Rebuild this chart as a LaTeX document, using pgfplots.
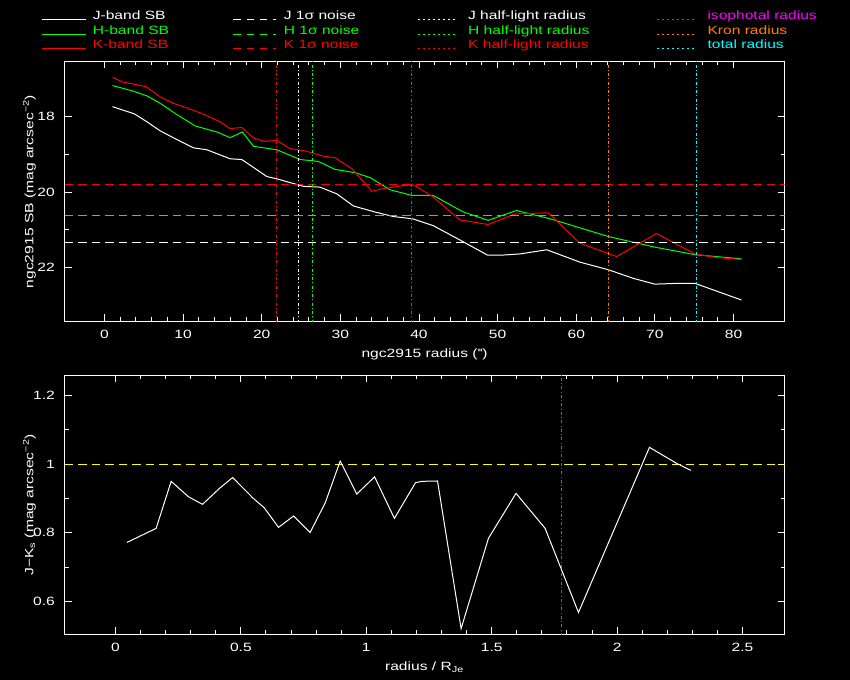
\documentclass[border=0pt]{standalone}
\usepackage{fontspec}
\setmainfont{Liberation Sans}[FakeStretch=1.3]
\usepackage{pgfplots}
\pgfplotsset{compat=1.18}
\definecolor{pgreen}{rgb}{0,1,0}
\definecolor{pred}{rgb}{1,0,0}
\definecolor{porange}{rgb}{1,0.5,0}
\definecolor{pcyan}{rgb}{0,1,1}
\definecolor{pmagenta}{RGB}{255,0,255}
\definecolor{pyellow}{rgb}{1,1,0}
\pgfplotsset{
  myax/.style={
    scale only axis,
    axis line style={white, line width=1bp},
    tick style={white, line width=1bp},
    tick align=inside, tick pos=both,
    xticklabel pos=lower, yticklabel pos=left,
    major tick length=7bp, minor tick length=4bp,
    ticklabel style={white},
    xticklabel style={anchor=base, inner sep=0pt, yshift=-17bp},
    yticklabel style={anchor=east, inner sep=0pt, xshift=-9.5bp},
    label style={white},
    /pgf/number format/assume math mode=true,
    clip=true,
  },
  curve/.style={line width=1bp},
  vline/.style={line width=1bp, dash pattern=on 3bp off 2bp on 1bp off 2.5bp},
  mline/.style={line width=1.4bp, dash pattern=on 3bp off 2bp on 1.2bp off 2.3bp},
  hline/.style={line width=1bp, dash pattern=on 8.5bp off 5bp},
}
\begin{document}
\fontsize{12bp}{14bp}\selectfont
\begin{tikzpicture}
\fill[black] (0bp,0bp) rectangle (850bp,680bp);
% ---------- top panel ----------
\begin{axis}[myax, at={(64.5bp,358.5bp)}, anchor=south west,
  width=720bp, height=260bp,
  xmin=-5.087, xmax=86.487, ymin=16.543, ymax=23.430, y dir=reverse,
  xtick={0,10,20,30,40,50,60,70,80}, minor x tick num=4,
  ytick={18,20,22}, minor y tick num=1,
  xlabel={ngc2915 radius (\textquotesingle\textquotesingle)},
  ylabel={ngc2915 SB (mag arcsec\textsuperscript{−2})},
  xlabel style={at={(axis description cs:0.5,-0.1385)}, anchor=base},
  ylabel style={at={(axis description cs:-0.0433,0.5)}, anchor=base},
]
\addplot[curve, white] coordinates {
(1.02,17.74)(3.8,17.93)(5.4,18.14)(7.08,18.38)(9.2,18.61)(11.3,18.83)(13.0,18.88)
(15.98,19.12)(17.47,19.14)(20.65,19.59)(21.9,19.65)(25.3,19.85)(27.4,19.87)
(29.55,20.05)(31.66,20.37)(34.4,20.53)(36.75,20.65)(39.2,20.71)(41.8,20.89)
(45.2,21.27)(48.7,21.67)(50.7,21.67)(52.85,21.64)(56.25,21.53)(60.5,21.86)
(64.1,22.06)(67.3,22.29)(70.0,22.44)(72.8,22.42)(75.1,22.42)(81.0,22.86)};
\addplot[curve, pgreen] coordinates {
(1.02,17.18)(3.7,17.33)(5.47,17.46)(7.08,17.65)(9.0,17.92)(11.53,18.25)(14.3,18.41)
(15.98,18.56)(17.55,18.41)(18.95,18.79)(21.9,18.88)(24.9,19.14)(27.2,19.19)
(29.3,19.40)(31.9,19.49)(33.8,19.62)(36.3,19.94)(39.1,20.09)(41.8,20.09)
(45.65,20.53)(48.8,20.75)(52.4,20.49)(56.7,20.71)(64.1,21.18)(70.0,21.46)
(75.1,21.66)(81.0,21.77)};
\addplot[curve, pred] coordinates {
(1.02,16.96)(2.2,17.08)(3.9,17.15)(5.3,17.21)(7.08,17.48)(8.78,17.65)(10.47,17.77)
(12.6,17.94)(14.7,18.14)(15.98,18.32)(17.47,18.29)(18.95,18.57)(20.4,18.66)
(21.9,18.63)(23.6,18.85)(25.5,18.91)(27.85,19.05)(29.3,19.09)(31.45,19.38)
(34.0,19.98)(35.47,19.91)(38.0,19.83)(39.3,19.81)(41.8,20.13)(45.2,20.74)
(48.8,20.86)(52.2,20.58)(56.45,20.55)(60.5,21.36)(65.15,21.71)(70.2,21.10)
(75.1,21.64)(77.65,21.73)(81.0,21.79)};
% noise levels
\addplot[hline, white] coordinates {(-5.087,21.338)(86.487,21.338)};
\addplot[hline, pgreen] coordinates {(-5.087,20.622)(86.487,20.622)};
\addplot[hline, pred] coordinates {(-5.087,19.801)(86.487,19.801)};
% radii
\addplot[vline, white] coordinates {(24.675,16.4)(24.675,23.6)};
\addplot[vline, pgreen] coordinates {(26.455,16.4)(26.455,23.6)};
\addplot[vline, pred] coordinates {(21.876,16.4)(21.876,23.6)};
\addplot[mline, pmagenta] coordinates {(39.047,16.4)(39.047,23.6)};
\addplot[vline, porange] coordinates {(64.102,16.4)(64.102,23.6)};
\addplot[vline, pcyan] coordinates {(75.295,16.4)(75.295,23.6)};
\end{axis}
% ---------- bottom panel ----------
\begin{axis}[myax, at={(64.5bp,45.5bp)}, anchor=south west,
  width=720bp, height=259bp,
  xmin=-0.20335, xmax=2.66746, ymin=0.50388, ymax=1.25825,
  xtick={0,0.5,1,1.5,2,2.5}, minor x tick num=4,
  ytick={0.6,0.8,1,1.2}, minor y tick num=1,
  xlabel={radius / R\textsubscript{Je}},
  ylabel={J−K\textsubscript{s} (mag arcsec\textsuperscript{−2})},
  xlabel style={at={(axis description cs:0.5,-0.1409)}, anchor=base},
  ylabel style={at={(axis description cs:-0.0433,0.5)}, anchor=base},
]
\addplot[hline, pyellow] coordinates {(-0.20335,0.999)(2.66746,0.999)};
\addplot[mline, pmagenta] coordinates {(1.7783,0.45)(1.7783,1.3)};
\addplot[curve, white] coordinates {
(0.0455,0.772)(0.162,0.813)(0.222,0.950)(0.291,0.905)(0.347,0.883)(0.417,0.931)
(0.467,0.961)(0.550,0.900)(0.593,0.873)(0.650,0.816)(0.710,0.849)(0.776,0.801)
(0.836,0.887)(0.896,1.009)(0.962,0.913)(1.033,0.963)(1.112,0.842)(1.196,0.946)
(1.222,0.950)(1.284,0.951)(1.378,0.521)(1.487,0.784)(1.597,0.915)(1.713,0.813)
(1.846,0.568)(2.129,1.049)(2.238,1.002)(2.294,0.982)};
\end{axis}
% ---------- legend ----------
\begin{scope}[line width=1bp, every node/.style={anchor=base west, inner sep=0pt}]
\draw[white] (42bp,660.5bp) -- (86bp,660.5bp);
\draw[pgreen] (42bp,645.5bp) -- (86bp,645.5bp);
\draw[pred] (42bp,631.5bp) -- (86bp,631.5bp);
\node[white] at (92.3bp,660bp) {J-band SB};
\node[pgreen] at (92.3bp,645.5bp) {H-band SB};
\node[pred] at (92.3bp,631.5bp) {K-band SB};
\begin{scope}[dash pattern=on 7.3bp off 6bp]
\draw[white] (233.3bp,660.5bp) -- (276bp,660.5bp);
\draw[pgreen] (233.3bp,645.5bp) -- (276bp,645.5bp);
\draw[pred] (233.3bp,631.5bp) -- (276bp,631.5bp);
\end{scope}
\node[white] at (283.3bp,660bp) {J 1σ noise};
\node[pgreen] at (283.3bp,645.5bp) {H 1σ noise};
\node[pred] at (283.3bp,631.5bp) {K 1σ noise};
\begin{scope}[dash pattern=on 1.5bp off 3.5bp]
\draw[white] (418bp,660.5bp) -- (458bp,660.5bp);
\draw[pgreen] (418bp,645.5bp) -- (458bp,645.5bp);
\draw[pred] (418bp,631.5bp) -- (458bp,631.5bp);
\draw[pmagenta, line width=1.4bp] (657bp,660.5bp) -- (695bp,660.5bp);
\draw[porange] (657bp,645.5bp) -- (695bp,645.5bp);
\draw[pcyan] (657bp,631.5bp) -- (695bp,631.5bp);
\end{scope}
\node[white] at (467.6bp,660bp) {J half-light radius};
\node[pgreen] at (467.6bp,645.5bp) {H half-light radius};
\node[pred] at (467.6bp,631.5bp) {K half-light radius};
\node[pmagenta] at (707bp,660bp) {isophotal radius};
\node[porange] at (707bp,645.5bp) {Kron radius};
\node[pcyan] at (707bp,631.5bp) {total radius};
\end{scope}
\end{tikzpicture}
\end{document}
